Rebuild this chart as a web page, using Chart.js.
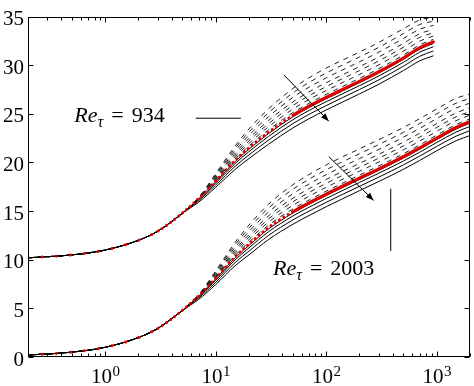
<!DOCTYPE html>
<html>
<head>
<meta charset="utf-8">
<script src="https://cdn.jsdelivr.net/npm/chart.js@4.4.1/dist/chart.umd.min.js"></script>
<style>
html, body { margin: 0; padding: 0; background: #fff; }
#wrap { width: 474px; height: 386px; }
</style>
</head>
<body>
<div id="wrap"><canvas id="profile-canvas"></canvas></div>
<script>
// y+ positions (log axis)
var xUpper = [0.2, 0.5, 1, 2, 3, 5, 7, 10, 15, 20, 30, 50, 70, 100, 200, 300, 500, 700, 934];
var xLower = [0.2, 0.5, 1, 2, 3, 5, 7, 10, 15, 20, 30, 50, 70, 100, 200, 300, 500, 700, 1000, 1500, 2003];

// Re_tau = 934 (shifted up by 10)
var upperRed = [10.2, 10.5, 11.0, 12.0, 12.95, 14.8, 16.3, 18.1, 20.2, 21.5, 23.1, 24.85, 25.8, 26.7, 28.35, 29.35, 30.75, 31.8, 32.4];
var upperSolid = [
    [10.2, 10.5, 11.0, 12.0, 12.95, 14.8, 16.26, 18.03, 20.1, 21.37, 22.96, 24.7, 25.65, 26.55, 28.2, 29.2, 30.6, 31.64, 32.24],
    [10.2, 10.5, 11.0, 12.0, 12.95, 14.8, 16.17, 17.88, 19.89, 21.12, 22.67, 24.4, 25.35, 26.25, 27.9, 28.9, 30.3, 31.33, 31.9],
    [10.2, 10.5, 11.0, 12.0, 12.95, 14.8, 16.05, 17.68, 19.61, 20.78, 22.29, 24.0, 24.95, 25.85, 27.5, 28.5, 29.9, 30.91, 31.47],
    [10.2, 10.5, 11.0, 12.0, 12.95, 14.8, 15.91, 17.45, 19.29, 20.4, 21.87, 23.55, 24.5, 25.4, 27.05, 28.05, 29.45, 30.44, 30.97]
];
var upperDashed = [
    [10.2, 10.5, 11.0, 12.0, 12.95, 14.8, 16.31, 18.18, 20.35, 21.7, 23.34, 25.13, 26.09, 27.0, 28.65, 29.65, 31.05, 32.09, 32.66],
    [10.2, 10.5, 11.0, 12.0, 12.95, 14.8, 16.32, 18.28, 20.55, 21.96, 23.66, 25.49, 26.48, 27.4, 29.05, 30.05, 31.45, 32.47, 33.0],
    [10.2, 10.5, 11.0, 12.0, 12.95, 14.8, 16.33, 18.38, 20.75, 22.22, 23.98, 25.86, 26.87, 27.8, 29.45, 30.45, 31.85, 32.85, 33.34],
    [10.2, 10.5, 11.0, 12.0, 12.95, 14.8, 16.35, 18.48, 20.95, 22.48, 24.3, 26.23, 27.26, 28.2, 29.85, 30.85, 32.25, 33.23, 33.68],
    [10.2, 10.5, 11.0, 12.0, 12.95, 14.8, 16.36, 18.6, 21.2, 22.8, 24.7, 26.69, 27.74, 28.7, 30.35, 31.35, 32.75, 33.7, 34.1],
    [10.2, 10.5, 11.0, 12.0, 12.95, 14.8, 16.38, 18.73, 21.45, 23.13, 25.1, 27.15, 28.23, 29.2, 30.85, 31.85, 33.25, 34.18, 34.53],
    [10.2, 10.5, 11.0, 12.0, 12.95, 14.8, 16.39, 18.85, 21.7, 23.45, 25.5, 27.61, 28.71, 29.7, 31.35, 32.35, 33.75, 34.65, 34.95]
];

// Re_tau = 2003
var lowerRed = [0.2, 0.5, 1.0, 2.0, 2.95, 4.8, 6.3, 8.1, 10.3, 11.6, 13.3, 14.95, 15.85, 16.75, 18.4, 19.35, 20.6, 21.5, 22.5, 23.6, 24.2];
var lowerSolid = [
    [0.2, 0.5, 1.0, 2.0, 2.95, 4.8, 6.26, 8.03, 10.2, 11.47, 13.16, 14.8, 15.7, 16.6, 18.25, 19.2, 20.45, 21.35, 22.35, 23.44, 24.04],
    [0.2, 0.5, 1.0, 2.0, 2.95, 4.8, 6.17, 7.88, 9.99, 11.22, 12.87, 14.5, 15.4, 16.3, 17.95, 18.9, 20.15, 21.05, 22.05, 23.13, 23.71],
    [0.2, 0.5, 1.0, 2.0, 2.95, 4.8, 6.05, 7.68, 9.71, 10.88, 12.49, 14.1, 15.0, 15.9, 17.55, 18.5, 19.75, 20.65, 21.65, 22.71, 23.27],
    [0.2, 0.5, 1.0, 2.0, 2.95, 4.8, 5.91, 7.45, 9.39, 10.5, 12.07, 13.65, 14.55, 15.45, 17.1, 18.05, 19.3, 20.2, 21.2, 22.24, 22.77]
];
var lowerDashed = [
    [0.2, 0.5, 1.0, 2.0, 2.95, 4.8, 6.31, 8.18, 10.45, 11.8, 13.54, 15.23, 16.14, 17.05, 18.7, 19.65, 20.9, 21.8, 22.8, 23.9, 24.49],
    [0.2, 0.5, 1.0, 2.0, 2.95, 4.8, 6.32, 8.28, 10.65, 12.06, 13.86, 15.59, 16.53, 17.45, 19.1, 20.05, 21.3, 22.2, 23.2, 24.3, 24.87],
    [0.2, 0.5, 1.0, 2.0, 2.95, 4.8, 6.33, 8.38, 10.85, 12.32, 14.18, 15.96, 16.92, 17.85, 19.5, 20.45, 21.7, 22.6, 23.6, 24.7, 25.25],
    [0.2, 0.5, 1.0, 2.0, 2.95, 4.8, 6.35, 8.48, 11.05, 12.58, 14.5, 16.33, 17.31, 18.25, 19.9, 20.85, 22.1, 23.0, 24.0, 25.1, 25.63],
    [0.2, 0.5, 1.0, 2.0, 2.95, 4.8, 6.36, 8.6, 11.3, 12.9, 14.9, 16.79, 17.79, 18.75, 20.4, 21.35, 22.6, 23.5, 24.5, 25.6, 26.1],
    [0.2, 0.5, 1.0, 2.0, 2.95, 4.8, 6.38, 8.73, 11.55, 13.23, 15.3, 17.25, 18.28, 19.25, 20.9, 21.85, 23.1, 24.0, 25.0, 26.1, 26.58],
    [0.2, 0.5, 1.0, 2.0, 2.95, 4.8, 6.39, 8.85, 11.8, 13.55, 15.7, 17.71, 18.76, 19.75, 21.4, 22.35, 23.6, 24.5, 25.5, 26.6, 27.05]
];

var xTickPowers = [0, 1, 2, 3];
var reLabels = ["934", "2003"];

var serif = '"Liberation Serif", "Times New Roman", serif';

function pts(xs, ys) {
    return xs.map(function (x, i) { return { x: x, y: ys[i] }; });
}

function dashedSet(xs, ys) {
    return { data: pts(xs, ys), borderColor: "#222", borderWidth: 1, borderDash: [5, 5],
             pointRadius: 0, cubicInterpolationMode: "monotone", order: 3 };
}
function solidSet(xs, ys) {
    return { data: pts(xs, ys), borderColor: "#000", borderWidth: 1,
             pointRadius: 0, cubicInterpolationMode: "monotone", order: 2 };
}
function redSet(xs, ys) {
    return { data: pts(xs, ys), borderColor: "#e00000", borderWidth: 3, borderCapStyle: "round",
             pointRadius: 0, cubicInterpolationMode: "monotone", order: 1,
             segment: {
                 borderDash: function (c) {
                     if (c.p0.parsed.x < 3) return [0.1, 14];
                     if (c.p0.parsed.x < 50) return [0.1, 5];
                     return undefined;
                 }
             } };
}

var datasets = [];
upperDashed.forEach(function (ys) { datasets.push(dashedSet(xUpper, ys)); });
lowerDashed.forEach(function (ys) { datasets.push(dashedSet(xLower, ys)); });
upperSolid.forEach(function (ys) { datasets.push(solidSet(xUpper, ys)); });
lowerSolid.forEach(function (ys) { datasets.push(solidSet(xLower, ys)); });
datasets.push(redSet(xUpper, upperRed));
datasets.push(redSet(xLower, lowerRed));

// frame, inward ticks, x labels and the annotations
var decor = {
    id: "decor",
    afterDatasetsDraw: function (chart) {
        var ctx = chart.ctx, ca = chart.chartArea;
        var sx = chart.scales.x, sy = chart.scales.y;
        var L = Math.round(ca.left) + 0.5, R = Math.round(ca.right) - 0.5;
        var T = Math.round(ca.top) + 0.5, B = Math.round(ca.bottom) - 0.5;
        ctx.save();
        ctx.strokeStyle = "#000";
        ctx.lineWidth = 1;
        ctx.setLineDash([]);
        ctx.strokeRect(L, T, R - L, B - T);

        ctx.beginPath();
        for (var v = 0; v <= 35; v += 5) {
            var py = Math.round(sy.getPixelForValue(v)) + 0.5;
            ctx.moveTo(L, py); ctx.lineTo(L + 5, py);
            ctx.moveTo(R, py); ctx.lineTo(R - 5, py);
        }
        for (var e = -1; e <= 3; e++) {
            for (var k = 1; k <= 9; k++) {
                var val = k * Math.pow(10, e);
                if (val < sx.min || val > sx.max) continue;
                var px = Math.round(sx.getPixelForValue(val)) + 0.5;
                var len = k === 1 ? 5 : 3;
                ctx.moveTo(px, B); ctx.lineTo(px, B - len);
                ctx.moveTo(px, T); ctx.lineTo(px, T + len);
            }
        }
        ctx.stroke();

        // x tick labels 10^n
        ctx.fillStyle = "#000";
        ctx.textBaseline = "alphabetic";
        ctx.textAlign = "left";
        xTickPowers.forEach(function (p) {
            var cx = sx.getPixelForValue(Math.pow(10, p));
            ctx.font = "21px " + serif;
            var w1 = ctx.measureText("10").width;
            ctx.font = "15px " + serif;
            var w2 = ctx.measureText(String(p)).width;
            var x0 = cx - (w1 + w2) / 2;
            ctx.font = "21px " + serif;
            ctx.fillText("10", x0, 383);
            ctx.font = "15px " + serif;
            ctx.fillText(String(p), x0 + w1 + 0.5, 376);
        });

        function reText(x, y, num) {
            var px = sx.getPixelForValue(x), py = sy.getPixelForValue(y);
            ctx.font = "italic 22px " + serif;
            ctx.fillText("Re", px, py);
            var w = ctx.measureText("Re").width;
            ctx.font = "italic 16px " + serif;
            ctx.fillText("\u03c4", px + w, py + 5);
            w += ctx.measureText("\u03c4").width + 8;
            ctx.font = "22px " + serif;
            ctx.fillText("=", px + w, py);
            w += ctx.measureText("=").width + 8;
            ctx.fillText(num, px + w, py);
        }
        reText(0.525, 24.2, reLabels[0]);
        reText(33, 8.4, reLabels[1]);

        function seg(x1, y1, x2, y2) {
            ctx.beginPath();
            ctx.moveTo(sx.getPixelForValue(x1), sy.getPixelForValue(y1));
            ctx.lineTo(sx.getPixelForValue(x2), sy.getPixelForValue(y2));
            ctx.stroke();
        }
        function arrow(x1, y1, x2, y2) {
            var ax = sx.getPixelForValue(x1), ay = sy.getPixelForValue(y1);
            var bx = sx.getPixelForValue(x2), by = sy.getPixelForValue(y2);
            ctx.beginPath(); ctx.moveTo(ax, ay); ctx.lineTo(bx, by); ctx.stroke();
            var a = Math.atan2(by - ay, bx - ax), h = 8, s = 3;
            ctx.beginPath();
            ctx.moveTo(bx, by);
            ctx.lineTo(bx - h * Math.cos(a) + s * Math.sin(a), by - h * Math.sin(a) - s * Math.cos(a));
            ctx.lineTo(bx - h * Math.cos(a) - s * Math.sin(a), by - h * Math.sin(a) + s * Math.cos(a));
            ctx.closePath();
            ctx.fill();
        }
        seg(6.6, 24.55, 16.9, 24.55);
        seg(384, 17.3, 384, 10.9);
        arrow(41.4, 29.0, 105.6, 24.25);
        arrow(105.6, 20.6, 269, 16.1);
        ctx.restore();
    }
};

var profileChart = new Chart(document.getElementById("profile-canvas"), {
    type: "line",
    data: { datasets: datasets },
    options: {
        responsive: true,
        maintainAspectRatio: false,
        animation: false,
        layout: { padding: { top: 10, right: 4, left: 0, bottom: 0 } },
        plugins: { legend: { display: false }, tooltip: { enabled: false } },
        scales: {
            x: {
                type: "logarithmic", min: 0.2, max: 2003,
                grid: { display: false, drawTicks: false },
                border: { display: false },
                ticks: { display: false },
                afterFit: function (s) { s.height = 29; }
            },
            y: {
                min: 0, max: 35,
                grid: { display: false, drawTicks: false },
                border: { display: false },
                ticks: { stepSize: 5, padding: 4, labelOffset: 3, color: "#000",
                         font: { family: serif, size: 21 } },
                afterFit: function (s) { s.width = 28; }
            }
        }
    },
    plugins: [decor]
});
</script>
</body>
</html>
